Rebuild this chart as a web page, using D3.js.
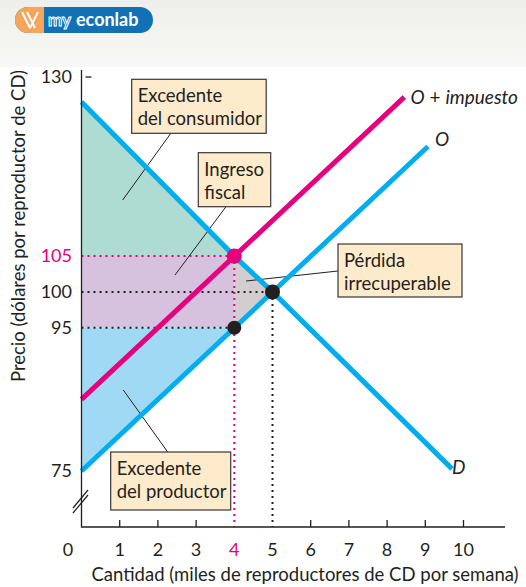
<!DOCTYPE html>
<html>
<head>
<meta charset="utf-8">
<script src="https://cdn.jsdelivr.net/npm/d3@7"></script>
<style>
  body { margin: 0; background: #fff; }
  svg { display: block; font-family: Lato, "Open Sans", sans-serif; }
</style>
</head>
<body>
<svg id="chart" width="526" height="587"></svg>
<script>
// datos
const xTicks = [0, 1, 2, 3, 4, 5, 6, 7, 8, 9, 10];
const yTicks = [75, 95, 100, 105, 130];
const demanda = [[0, 126.5], [4, 105], [5, 100], [9.7, 75.3]];
const oferta = [[0, 75], [9.07, 120.3]];
const ofertaImp = [[0, 85], [8.45, 127.2]];
const equilibrio = { q: 5, p: 100 };
const conImpuesto = { q: 4, pc: 105, pp: 95 };

const width = 526, height = 587;
const svg = d3.select("#chart");

const x = d3.scaleLinear().domain([0, 10]).range([81.5, 463.5]);
const y = d3.scaleLinear().domain([75, 130]).range([471, 77]);
const axisY = 527;

// cabecera gris
const grad = svg.append("defs").append("linearGradient")
  .attr("id", "hdr").attr("x1", 0).attr("y1", 0).attr("x2", 0).attr("y2", 1);
grad.append("stop").attr("offset", 0).attr("stop-color", "#eeeeea");
grad.append("stop").attr("offset", 1).attr("stop-color", "#f8f8f6");
svg.append("rect").attr("width", width).attr("height", 67).attr("fill", "url(#hdr)");

// logo
const logo = svg.append("g");
logo.append("rect").attr("x", 15).attr("y", 7).attr("width", 138).attr("height", 26)
  .attr("rx", 13).attr("fill", "#1071b5");
logo.append("path")
  .attr("d", "M28,7 H44 V33 H28 A13,13 0 0 1 28,7 Z")
  .attr("fill", "#f6a55a");
logo.append("path")
  .attr("d", "M22,12 L30,28 M27,12 L35,28 M38,12 L30,28")
  .attr("stroke", "#fff").attr("stroke-width", 2).attr("fill", "none");
logo.append("text").attr("x", 48).attr("y", 26).attr("font-size", 17)
  .attr("font-weight", "bold").attr("fill", "none").attr("stroke", "#fff")
  .attr("stroke-width", 1).text("my");
logo.append("text").attr("x", 76).attr("y", 26).attr("font-size", 18)
  .attr("font-weight", "bold").attr("fill", "#fff").text("econlab");

const pt = (d) => [x(d[0]), y(d[1])];

// áreas
const areas = [
  { fill: "#aedcd3", pts: [[0, demanda[0][1]], [conImpuesto.q, conImpuesto.pc], [0, conImpuesto.pc]] },
  { fill: "#d6c2de", pts: [[0, conImpuesto.pc], [conImpuesto.q, conImpuesto.pc], [conImpuesto.q, conImpuesto.pp], [0, conImpuesto.pp]] },
  { fill: "#d2cdcf", pts: [[conImpuesto.q, conImpuesto.pc], [equilibrio.q, equilibrio.p], [conImpuesto.q, conImpuesto.pp]] },
  { fill: "#a0d9f4", pts: [[0, conImpuesto.pp], [conImpuesto.q, conImpuesto.pp], [0, oferta[0][1]]] },
];
svg.selectAll("polygon.area").data(areas).join("polygon")
  .attr("class", "area")
  .attr("points", d => d.pts.map(pt).join(" "))
  .attr("fill", d => d.fill);

// líneas punteadas
const dots = [
  { c: "#e6007e", a: [0, conImpuesto.pc], b: [conImpuesto.q, conImpuesto.pc] },
  { c: "#e6007e", a: [conImpuesto.q, conImpuesto.pc], b: null },
  { c: "#231f20", a: [0, equilibrio.p], b: [equilibrio.q, equilibrio.p] },
  { c: "#231f20", a: [equilibrio.q, equilibrio.p], b: null },
  { c: "#231f20", a: [0, conImpuesto.pp], b: [conImpuesto.q, conImpuesto.pp] },
];
svg.selectAll("line.dot").data(dots).join("line")
  .attr("class", "dot")
  .attr("x1", d => x(d.a[0])).attr("y1", d => y(d.a[1]))
  .attr("x2", d => d.b ? x(d.b[0]) : x(d.a[0]))
  .attr("y2", d => d.b ? y(d.b[1]) : axisY)
  .attr("stroke", d => d.c).attr("stroke-width", 2)
  .attr("stroke-dasharray", "2,4");

// líneas guía de etiquetas
const guias = [
  [[171, 133], [122.7, 200]],
  [[226, 206.7], [175, 275]],
  [[338, 271], [246, 281]],
  [[167.7, 452], [123.3, 390]],
];
svg.selectAll("line.guia").data(guias).join("line")
  .attr("class", "guia")
  .attr("x1", d => d[0][0]).attr("y1", d => d[0][1])
  .attr("x2", d => d[1][0]).attr("y2", d => d[1][1])
  .attr("stroke", "#231f20").attr("stroke-width", 1);

// curvas
const line = d3.line().x(d => x(d[0])).y(d => y(d[1]));
svg.append("path").attr("d", line(oferta)).attr("stroke", "#00aeef")
  .attr("stroke-width", 5).attr("fill", "none");
svg.append("path").attr("d", line(demanda)).attr("stroke", "#00aeef")
  .attr("stroke-width", 5).attr("fill", "none");
svg.append("path").attr("d", line(ofertaImp)).attr("stroke", "#e6007e")
  .attr("stroke-width", 5).attr("fill", "none");

// puntos
const puntos = [
  { q: conImpuesto.q, p: conImpuesto.pc, c: "#e6007e", r: 7.5 },
  { q: equilibrio.q, p: equilibrio.p, c: "#231f20", r: 7.5 },
  { q: conImpuesto.q, p: conImpuesto.pp, c: "#231f20", r: 7 },
];
svg.selectAll("circle.pt").data(puntos).join("circle")
  .attr("class", "pt")
  .attr("cx", d => x(d.q)).attr("cy", d => y(d.p)).attr("r", d => d.r)
  .attr("fill", d => d.c);

// ejes
svg.append("path")
  .attr("d", `M${x(0)},70 V${axisY} H505`)
  .attr("stroke", "#231f20").attr("stroke-width", 1.3).attr("fill", "none");
svg.append("line").attr("x1", x(0) + 4).attr("x2", x(0) + 10)
  .attr("y1", y(130)).attr("y2", y(130)).attr("stroke", "#231f20").attr("stroke-width", 1.3);
// corte del eje
[0, 5].forEach(o => {
  svg.append("line").attr("x1", 73).attr("y1", 508 + o).attr("x2", 88).attr("y2", 490 + o)
    .attr("stroke", "#231f20").attr("stroke-width", 1.2);
});

svg.selectAll("line.xtick").data(xTicks.filter(d => d > 0 && d !== 4 && d !== 5)).join("line")
  .attr("class", "xtick")
  .attr("x1", d => x(d)).attr("x2", d => x(d))
  .attr("y1", axisY).attr("y2", axisY - 7)
  .attr("stroke", "#231f20").attr("stroke-width", 1.3);

svg.selectAll("text.xlab").data(xTicks).join("text")
  .attr("class", "xlab")
  .attr("x", d => d === 0 ? 68 : x(d))
  .attr("y", 556)
  .attr("text-anchor", "middle")
  .attr("font-size", 18)
  .attr("fill", d => d === 4 ? "#e6007e" : "#231f20")
  .text(d => d);

svg.selectAll("text.ylab").data(yTicks).join("text")
  .attr("class", "ylab")
  .attr("x", 72)
  .attr("y", d => y(d) + 6)
  .attr("text-anchor", "end")
  .attr("font-size", 18)
  .attr("fill", d => d === 105 ? "#e6007e" : "#231f20")
  .text(d => d);

svg.append("text")
  .attr("x", 305).attr("y", 581).attr("text-anchor", "middle")
  .attr("font-size", 18.5).attr("fill", "#231f20")
  .text("Cantidad (miles de reproductores de CD por semana)");
svg.append("text")
  .attr("transform", "translate(25,226) rotate(-90)")
  .attr("text-anchor", "middle")
  .attr("font-size", 18.5).attr("fill", "#231f20")
  .text("Precio (dólares por reproductor de CD)");

// etiquetas de curvas
const curvLab = [
  { x: 410.5, y: 104, parts: [["O", "italic"], [" + ", "normal"], ["impuesto", "italic"]] },
  { x: 435, y: 146, parts: [["O", "italic"]] },
  { x: 452, y: 474, parts: [["D", "italic"]] },
];
curvLab.forEach(l => {
  const t = svg.append("text").attr("x", l.x).attr("y", l.y)
    .attr("font-size", 19).attr("fill", "#231f20");
  l.parts.forEach(p => t.append("tspan").attr("font-style", p[1]).text(p[0]));
});

// cuadros
const cuadros = [
  { x: 131.7, y: 79.3, w: 134.5, h: 54, lines: ["Excedente", "del consumidor"] },
  { x: 198.3, y: 152.7, w: 72.4, h: 54, lines: ["Ingreso", "fiscal"] },
  { x: 338, y: 244, w: 124, h: 53, lines: ["Pérdida", "irrecuperable"] },
  { x: 110.7, y: 452, w: 120, h: 58, lines: ["Excedente", "del productor"] },
];
const cg = svg.selectAll("g.cuadro").data(cuadros).join("g").attr("class", "cuadro");
cg.append("rect")
  .attr("x", d => d.x).attr("y", d => d.y).attr("width", d => d.w).attr("height", d => d.h)
  .attr("fill", "#feebcc").attr("stroke", "#3a3536").attr("stroke-width", 1.2);
cg.each(function (d) {
  const g = d3.select(this);
  d.lines.forEach((s, i) => {
    g.append("text").attr("x", d.x + 6).attr("y", d.y + 23 + i * 23)
      .attr("font-size", 18.5).attr("fill", "#231f20").text(s);
  });
});
</script>
</body>
</html>
